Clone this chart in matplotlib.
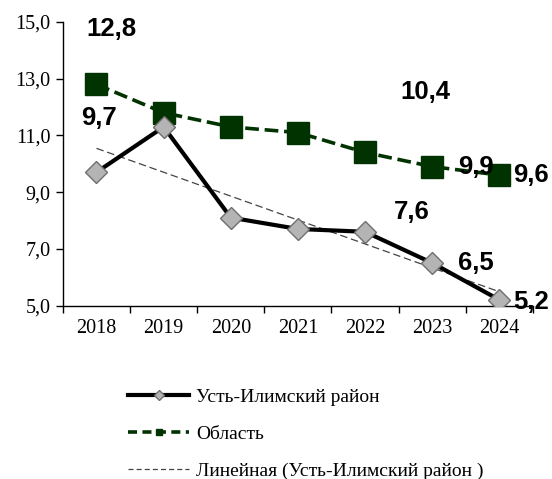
import matplotlib.pyplot as plt
from matplotlib.lines import Line2D
import numpy as np

plt.rcParams['font.family'] = ['Liberation Serif', 'DejaVu Serif']

years = ['2018', '2019', '2020', '2021', '2022', '2023', '2024']
ust_ilimsk = [9.7, 11.3, 8.1, 7.7, 7.6, 6.5, 5.2]
oblast = [12.8, 11.8, 11.3, 11.1, 10.4, 9.9, 9.6]

name_ust = 'Усть-Илимский район'
name_obl = 'Область'
name_trend = 'Линейная (Усть-Илимский район )'

# подписи значений: (индекс точки, смещение в пикселях)
labels_obl = [(0, (15, 55)), (4, (60, 60)), (5, (44, 0)), (6, (32, 0))]
labels_ust = [(0, (3, 54)), (4, (47, 20)), (5, (44, 0)), (6, (32, -2))]

green = '#003300'
grey_fill = '#b4b4b4'
grey_edge = '#6e6e6e'

x = np.arange(len(years))

fig = plt.figure(figsize=(5.52, 4.79), dpi=100)
ax = fig.add_axes([0.114, 0.3622, 0.8514, 0.5919])

# линейный тренд
k, b = np.polyfit(x, ust_ilimsk, 1)
ax.plot(x, k * x + b, color='#444444', lw=0.9, dashes=(6, 3), zorder=2)

ax.plot(x, oblast, color=green, lw=2.6, dashes=(3.8, 1.6),
        marker='s', markersize=15.5, markerfacecolor=green, markeredgecolor=green, zorder=3)
ax.plot(x, ust_ilimsk, color='black', lw=3, marker='D', markersize=11.5,
        markerfacecolor=grey_fill, markeredgecolor=grey_edge, markeredgewidth=1, zorder=4)

for series, lbls in ((oblast, labels_obl), (ust_ilimsk, labels_ust)):
    for i, off in lbls:
        ax.annotate(f'{series[i]:.1f}'.replace('.', ','), (x[i], series[i]),
                    xytext=off, textcoords='offset pixels', ha='center', va='center',
                    fontsize=18.5, fontweight='bold', family='Liberation Sans', zorder=6)

ax.set_xlim(-0.5, len(years) - 0.5)
ax.set_ylim(5, 15)
ax.set_yticks([5, 7, 9, 11, 13, 15])
ax.set_yticklabels([f'{v:.1f}'.replace('.', ',') for v in [5, 7, 9, 11, 13, 15]], fontsize=14.5)
ax.set_xticks(x)
ax.set_xticklabels(years, fontsize=14.5)
ax.set_xticks(np.arange(-0.5, len(years)), minor=True)
ax.tick_params(axis='x', which='major', length=0, pad=10)
ax.tick_params(axis='x', which='minor', length=5, width=1, direction='out')
ax.tick_params(axis='y', length=5, width=1, direction='out', pad=4)
ax.spines['top'].set_visible(False)
ax.spines['right'].set_visible(False)
for s in ('left', 'bottom'):
    ax.spines[s].set_linewidth(1)

handles = [
    Line2D([], [], color='black', lw=3, marker='D', markersize=5,
           markerfacecolor=grey_fill, markeredgecolor=grey_edge),
    Line2D([], [], color=green, lw=2.6, dashes=(2.5, 1.5), marker='s', markersize=5,
           markerfacecolor=green, markeredgecolor=green),
    Line2D([], [], color='#444444', lw=0.9, dashes=(4, 2.5)),
]
fig.legend(handles, [name_ust, name_obl, name_trend], loc='upper left',
           bbox_to_anchor=(0.215, 0.21), frameon=False, fontsize=14,
           handlelength=3.1, handletextpad=0.4, labelspacing=1.0, borderpad=0)

fig.savefig('out.png', dpi=100)
